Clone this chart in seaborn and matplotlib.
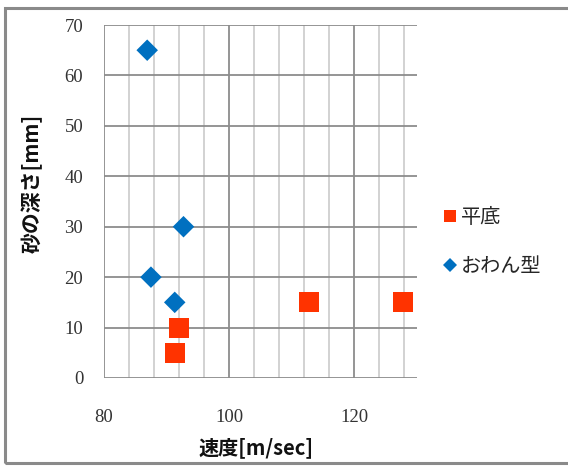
import matplotlib
matplotlib.use("Agg")
import matplotlib.pyplot as plt
from matplotlib.patches import Rectangle
from matplotlib.lines import Line2D
import numpy as np
import pandas as pd
import seaborn as sns

# Speed [m/sec] vs. sand depth [mm] for two bottom shapes
flat_speed = [91.3, 92.0, 112.8, 127.7]
flat_depth = [5, 10, 15, 15]
bowl_speed = [86.9, 92.7, 87.5, 91.3]
bowl_depth = [65, 30, 20, 15]
series_names = ["平底", "おわん型"]
series_colors = ["#FF3300", "#0070C0"]

x_ticks = [80, 100, 120]
y_ticks = [0, 10, 20, 30, 40, 50, 60, 70]

df = pd.DataFrame({
    "speed": flat_speed + bowl_speed,
    "depth": flat_depth + bowl_depth,
    "shape": [series_names[0]] * len(flat_speed) + [series_names[1]] * len(bowl_speed),
})

sns.set_theme(style="white")
plt.rcParams["font.family"] = ["Noto Sans CJK JP", "DejaVu Sans"]

fig = plt.figure(figsize=(5.68, 4.67), dpi=100)
ax = fig.add_axes([104 / 568, 1 - 378 / 467, (417 - 104) / 568, (378 - 25) / 467])

# grid: minor verticals every 4, majors every 20 / 10
for xv in np.arange(84, 130, 4):
    if xv % 20 != 0:
        ax.axvline(xv, color="#CFCFCF", lw=1.3, zorder=0)
for xv in x_ticks:
    ax.axvline(xv, color="#8C8C8C", lw=1.3, zorder=0.5)
for yv in y_ticks:
    ax.axhline(yv, color="#8C8C8C", lw=1.3, zorder=0.5)

palette = dict(zip(series_names, series_colors))
sns.scatterplot(data=df[df["shape"] == series_names[0]], x="speed", y="depth",
                hue="shape", palette=palette, marker="s", s=210,
                edgecolor="none", linewidth=0, ax=ax, legend=False, zorder=3)
sns.scatterplot(data=df[df["shape"] == series_names[1]], x="speed", y="depth",
                hue="shape", palette=palette, marker="D", s=120,
                edgecolor="none", linewidth=0, ax=ax, legend=False, zorder=3)

ax.set_xlim(80, 130)
ax.set_ylim(0, 70)
tick_font = {"family": "Liberation Serif", "size": 13.5, "color": "#333333"}
ax.set_xticks(x_ticks, [str(v) for v in x_ticks], fontdict=tick_font)
ax.set_yticks(y_ticks, [str(v) for v in y_ticks], fontdict=tick_font)
for s in ax.spines.values():
    s.set_visible(False)
ax.tick_params(axis="both", length=0)
ax.tick_params(axis="x", pad=22)
ax.tick_params(axis="y", pad=15)
ax.set_xlabel("")
ax.set_ylabel("")

fig.text(256 / 568, 1 - 448 / 467, "速度[m/sec]", ha="center", va="center",
         fontsize=14.5, fontweight="bold", color="#111111")
fig.text(32 / 568, 1 - 183 / 467, "砂の深さ[mm]", ha="center", va="center",
         rotation=90, fontsize=15, fontweight="bold", color="#111111")

handles = [
    Line2D([], [], marker="s", ls="none", color=series_colors[0], markersize=9, markeredgewidth=0),
    Line2D([], [], marker="D", ls="none", color=series_colors[1], markersize=7, markeredgewidth=0),
]
fig.legend(handles, series_names, loc="center left",
           bbox_to_anchor=(434 / 568, 1 - 242 / 467), frameon=False,
           fontsize=14.5, handlelength=0.6, handletextpad=0.25, labelspacing=1.4,
           borderpad=0)

# chart frame
fig.patches.append(Rectangle((5 / 568, 1 - 463 / 467), 1.0, (463 - 8) / 467,
                             transform=fig.transFigure, fill=False,
                             edgecolor="#8A8A8A", lw=2.2, zorder=10))

fig.savefig("out.png", dpi=100, facecolor="white")
